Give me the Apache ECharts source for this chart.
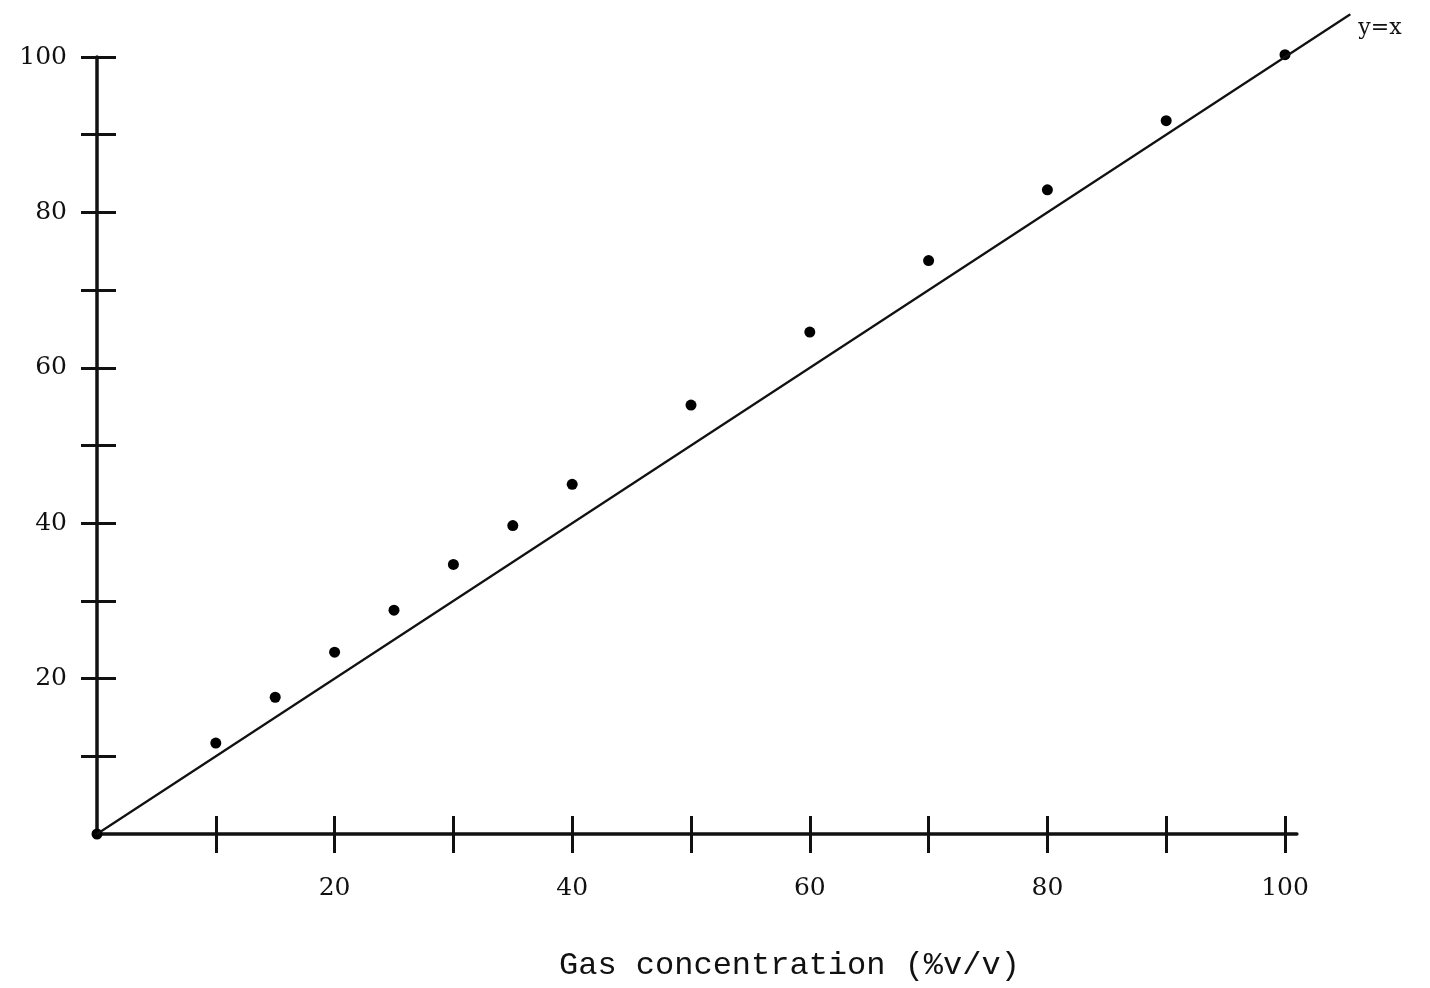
<!DOCTYPE html>
<html>
<head>
<meta charset="utf-8">
<title>Gas concentration</title>
<script src="https://cdn.jsdelivr.net/npm/echarts@6/dist/echarts.min.js"></script>
<style>
  html, body { margin: 0; padding: 0; background: #fff; }
  #chart { width: 1430px; height: 988px; }
</style>
</head>
<body>
<div id="chart"></div>
<script>
// Nominal gas concentration (% v/v) and the measured reading at each one
const concentration = [0, 10, 15, 20, 25, 30, 35, 40, 50, 60, 70, 80, 90, 100];
const measured = [0, 11.7, 17.6, 23.4, 28.8, 34.7, 39.7, 45.0, 55.2, 64.6, 73.8, 82.9, 91.8, 100.3];

// Reference line y = x, drawn a little past the last tick
const identityEnds = [0, 105.5];

// Tick marks and labelled ticks
const xTickValues = [10, 20, 30, 40, 50, 60, 70, 80, 90, 100];
const xLabelValues = [20, 40, 60, 80, 100];
const yTickValues = [10, 20, 30, 40, 50, 60, 70, 80, 90, 100];
const yLabelValues = [20, 40, 60, 80, 100];

const ink = '#111';
const labelFont = 'DejaVu Serif';

// Plot scale shared by both grids: pixels per unit on each axis
const originX = 97, originY = 834;
const pxPerX = 11.88, pxPerY = 7.77;
const xAxisEnd = 101, yAxisEnd = 100;
const lineEnd = identityEnds[identityEnds.length - 1];

const chart = echarts.init(document.getElementById('chart'), null, { renderer: 'canvas' });

// Each visible axis is declared twice so its ticks cross the axis line
const xAxes = [
  {
    gridIndex: 0, type: 'value', min: 0, max: xAxisEnd, position: 'bottom',
    splitLine: { show: false },
    axisLine: { show: true, onZero: false, lineStyle: { color: ink, width: 3.5 } },
    axisTick: { show: true, inside: false, length: 19, customValues: xTickValues,
                lineStyle: { color: ink, width: 3 } },
    axisLabel: { show: true, customValues: xLabelValues, margin: 42, color: ink,
                 fontFamily: labelFont, fontSize: 25 },
    name: 'Gas concentration (%v/v)',
    nameLocation: 'middle',
    nameGap: 116,
    nameTextStyle: { fontFamily: 'Liberation Mono', fontSize: 32, color: ink,
                     padding: [0, 0, 0, 185] }
  },
  {
    gridIndex: 0, type: 'value', min: 0, max: xAxisEnd, position: 'bottom',
    splitLine: { show: false },
    axisLine: { show: false },
    axisTick: { show: true, inside: true, length: 18, customValues: xTickValues,
                lineStyle: { color: ink, width: 3 } },
    axisLabel: { show: false }
  },
  // hidden axis of the overlay grid carrying the y = x line
  { gridIndex: 1, type: 'value', min: 0, max: lineEnd, show: false }
];

const yAxes = [
  {
    gridIndex: 0, type: 'value', min: 0, max: yAxisEnd, position: 'left',
    splitLine: { show: false },
    axisLine: { show: true, onZero: false, lineStyle: { color: ink, width: 3.5 } },
    axisTick: { show: true, inside: false, length: 16, customValues: yTickValues,
                lineStyle: { color: ink, width: 3 } },
    axisLabel: { show: true, customValues: yLabelValues, margin: 30, color: ink,
                 fontFamily: labelFont, fontSize: 25 }
  },
  {
    gridIndex: 0, type: 'value', min: 0, max: yAxisEnd, position: 'left',
    splitLine: { show: false },
    axisLine: { show: false },
    axisTick: { show: true, inside: true, length: 19, customValues: yTickValues,
                lineStyle: { color: ink, width: 3 } },
    axisLabel: { show: false }
  },
  { gridIndex: 1, type: 'value', min: 0, max: lineEnd, show: false }
];

chart.setOption({
  backgroundColor: '#fff',
  animation: false,
  grid: [
    { left: originX, top: originY - yAxisEnd * pxPerY,
      width: xAxisEnd * pxPerX, height: yAxisEnd * pxPerY },
    { left: originX, top: originY - lineEnd * pxPerY,
      width: lineEnd * pxPerX, height: lineEnd * pxPerY }
  ],
  xAxis: xAxes,
  yAxis: yAxes,
  series: [
    {
      name: 'y=x',
      type: 'line',
      xAxisIndex: 2,
      yAxisIndex: 2,
      symbol: 'none',
      data: identityEnds.map(v => [v, v]),
      lineStyle: { color: ink, width: 2.2 },
      endLabel: {
        show: true,
        formatter: 'y=x',
        color: ink,
        fontFamily: labelFont,
        fontSize: 22,
        offset: [0, 14]
      }
    },
    {
      name: 'measured',
      type: 'scatter',
      xAxisIndex: 0,
      yAxisIndex: 0,
      clip: false,
      symbol: 'circle',
      symbolSize: 11,
      itemStyle: { color: '#000', opacity: 1 },
      data: concentration.map((c, i) => [c, measured[i]])
    }
  ]
});
</script>
</body>
</html>
